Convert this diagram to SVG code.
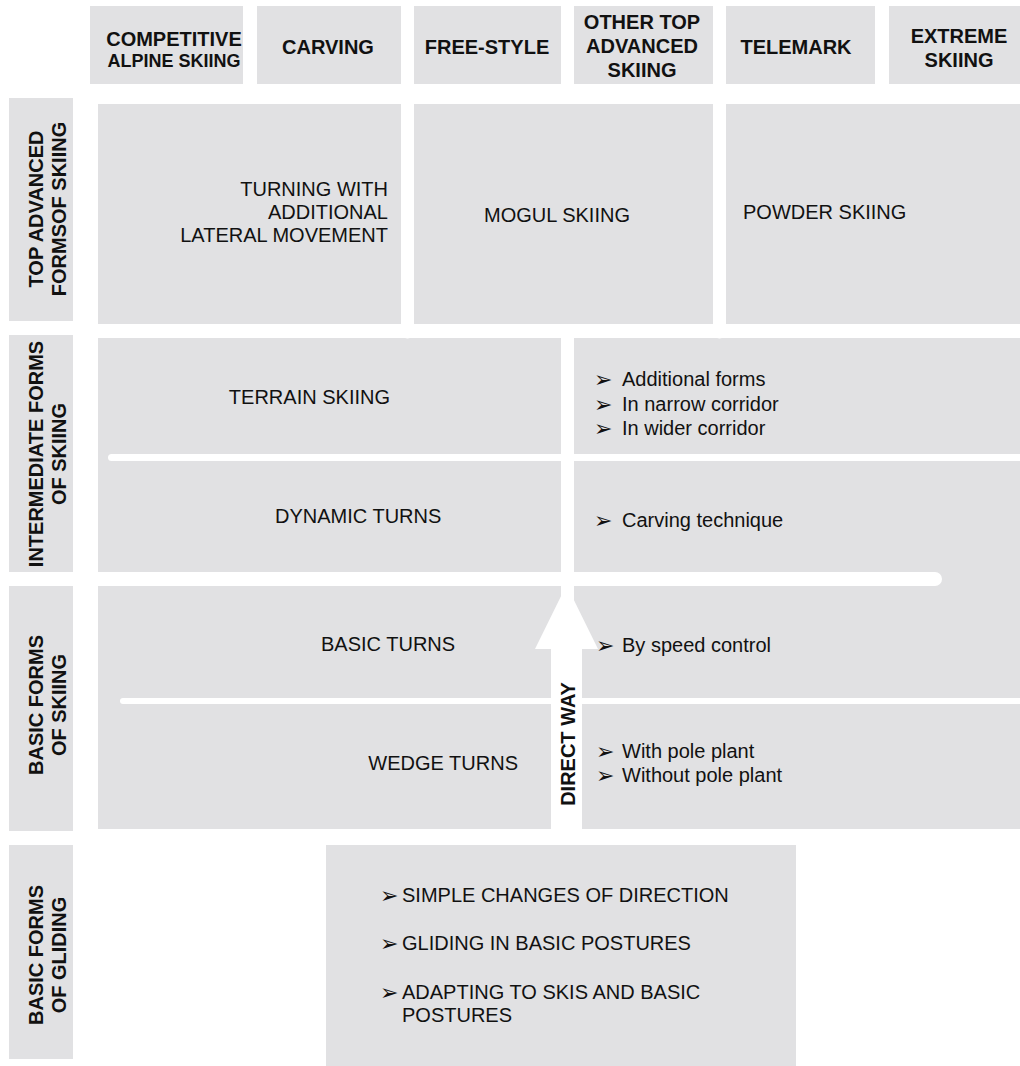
<svg xmlns="http://www.w3.org/2000/svg" width="1020" height="1066" viewBox="0 0 1020 1066">
<style>
.box{fill:#e1e1e3}
.hd{font-family:"Liberation Sans",Arial,sans-serif;font-weight:bold;font-size:20px;fill:#111;text-anchor:middle}
.lb{font-family:"Liberation Sans",Arial,sans-serif;font-weight:bold;font-size:20px;fill:#111;text-anchor:middle}
.tx{font-family:"Liberation Sans",Arial,sans-serif;font-size:20px;fill:#111}
.bu{font-family:"DejaVu Sans",sans-serif;font-size:22px;fill:#111}
.sep{stroke:#fff;fill:none;stroke-linecap:round}
</style>
<rect width="1020" height="1066" fill="#fff"/>

<g id="headers">
  <g id="h-competitive"><rect class="box" x="90" y="6" width="153" height="78"/>
    <text class="hd" x="174" y="46">COMPETITIVE</text><text class="hd" x="174" y="67" style="font-size:18px">ALPINE SKIING</text></g>
  <g id="h-carving"><rect class="box" x="257" y="6" width="144" height="78"/>
    <text class="hd" x="328" y="54">CARVING</text></g>
  <g id="h-freestyle"><rect class="box" x="414" y="6" width="147" height="78"/>
    <text class="hd" x="487" y="54">FREE-STYLE</text></g>
  <g id="h-other"><rect class="box" x="574" y="6" width="139" height="78"/>
    <text class="hd" x="642" y="29">OTHER TOP</text><text class="hd" x="642" y="53">ADVANCED</text><text class="hd" x="642" y="77">SKIING</text></g>
  <g id="h-telemark"><rect class="box" x="726" y="6" width="149" height="78"/>
    <text class="hd" x="796" y="54">TELEMARK</text></g>
  <g id="h-extreme"><rect class="box" x="889" y="6" width="131" height="78"/>
    <text class="hd" x="959" y="43">EXTREME</text><text class="hd" x="959" y="67">SKIING</text></g>
</g>

<g id="row-labels">
  <g id="l-top"><rect class="box" x="9" y="98" width="64" height="223"/>
    <g transform="translate(41,209) rotate(-90)"><text class="lb" x="0" y="2">TOP ADVANCED</text><text class="lb" x="0" y="25">FORMSOF SKIING</text></g></g>
  <g id="l-intermediate"><rect class="box" x="9" y="335" width="64" height="237"/>
    <g transform="translate(41,454) rotate(-90)"><text class="lb" x="0" y="2">INTERMEDIATE FORMS</text><text class="lb" x="0" y="25">OF SKIING</text></g></g>
  <g id="l-basic"><rect class="box" x="9" y="586" width="64" height="245"/>
    <g transform="translate(41,705) rotate(-90)"><text class="lb" x="0" y="2">BASIC FORMS</text><text class="lb" x="0" y="25">OF SKIING</text></g></g>
  <g id="l-gliding"><rect class="box" x="9" y="845" width="64" height="214"/>
    <g transform="translate(41,955) rotate(-90)"><text class="lb" x="0" y="2">BASIC FORMS</text><text class="lb" x="0" y="25">OF GLIDING</text></g></g>
</g>

<g id="grid">
  <rect class="box" x="98" y="104" width="922" height="725"/>
  <rect x="98" y="324" width="922" height="14" fill="#fff"/>
  <line class="sep" x1="407.5" y1="96" x2="407.5" y2="332" stroke-width="13"/>
  <line class="sep" x1="719.5" y1="96" x2="719.5" y2="332" stroke-width="13"/>
  <line x1="567.5" y1="331" x2="567.5" y2="829" stroke="#fff" stroke-width="13"/>
  <line class="sep" x1="88" y1="579" x2="935" y2="579" stroke-width="14"/>
  <line class="sep" x1="111.5" y1="457.5" x2="1030" y2="457.5" stroke-width="7"/>
  <line class="sep" x1="123" y1="701" x2="1030" y2="701" stroke-width="6"/>
  <rect class="box" x="326" y="845" width="470" height="221"/>
</g>

<g id="connectors">
  <polygon id="direct-way-arrow" points="551,829 551,649 535,649 566.5,585 598,649 582,649 582,829" fill="#fff"/>
  <text class="lb" transform="translate(575,744) rotate(-90)" x="0" y="0">DIRECT WAY</text>
</g>

<g id="n-turning"><text class="tx" text-anchor="end"><tspan x="388" y="196">TURNING WITH</tspan><tspan x="388" y="219">ADDITIONAL</tspan><tspan x="388" y="242">LATERAL MOVEMENT</tspan></text></g>
<g id="n-mogul"><text class="tx" x="484" y="222">MOGUL SKIING</text></g>
<g id="n-powder"><text class="tx" x="743" y="219">POWDER SKIING</text></g>
<g id="n-terrain"><text class="tx" x="390" y="404" text-anchor="end">TERRAIN SKIING</text></g>
<g id="n-terrain-list">
  <text class="bu" x="594" y="387">➢</text><text class="tx" x="622" y="386">Additional forms</text>
  <text class="bu" x="594" y="412">➢</text><text class="tx" x="622" y="411">In narrow corridor</text>
  <text class="bu" x="594" y="436">➢</text><text class="tx" x="622" y="435">In wider corridor</text>
</g>
<g id="n-dynamic"><text class="tx" x="275" y="523">DYNAMIC TURNS</text></g>
<g id="n-dynamic-list"><text class="bu" x="594" y="528">➢</text><text class="tx" x="622" y="527">Carving technique</text></g>
<g id="n-basic"><text class="tx" x="321" y="651">BASIC TURNS</text></g>
<g id="n-basic-list"><text class="bu" x="596" y="653">➢</text><text class="tx" x="622" y="652">By speed control</text></g>
<g id="n-wedge"><text class="tx" x="518" y="770" text-anchor="end">WEDGE TURNS</text></g>
<g id="n-wedge-list">
  <text class="bu" x="596" y="759">➢</text><text class="tx" x="622" y="758">With pole plant</text>
  <text class="bu" x="596" y="783">➢</text><text class="tx" x="622" y="782">Without pole plant</text>
</g>
<g id="n-gliding">
  <text class="bu" x="380" y="903">➢</text><text class="tx" x="402" y="902">SIMPLE CHANGES OF DIRECTION</text>
  <text class="bu" x="380" y="951">➢</text><text class="tx" x="402" y="950">GLIDING IN BASIC POSTURES</text>
  <text class="bu" x="380" y="1000">➢</text><text class="tx"><tspan x="402" y="999">ADAPTING TO SKIS AND BASIC</tspan><tspan x="402" y="1022">POSTURES</tspan></text>
</g>
</svg>
